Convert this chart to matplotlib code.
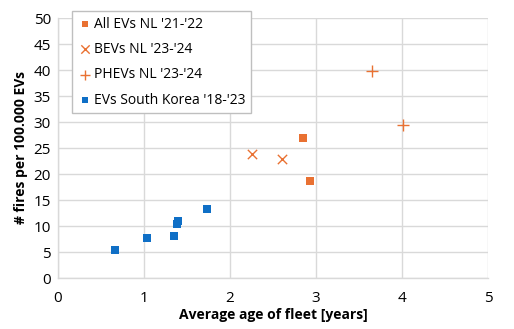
import matplotlib
matplotlib.use("Agg")
import matplotlib.pyplot as plt

plt.rcParams['font.family'] = ['Open Sans', 'DejaVu Sans']

nl_all_x = [2.845, 2.93]
nl_all_y = [27.0, 18.6]
bev_x = [2.256, 2.60]
bev_y = [23.9, 22.9]
phev_x = [3.65, 4.01]
phev_y = [39.9, 29.5]
kr_x = [0.66, 1.035, 1.345, 1.38, 1.40, 1.73]
kr_y = [5.3, 7.75, 8.07, 10.4, 10.9, 13.2]

labels = ["All EVs NL '21-'22", "BEVs NL '23-'24", "PHEVs NL '23-'24", "EVs South Korea '18-'23"]
xticks = [0, 1, 2, 3, 4, 5]
yticks = [0, 5, 10, 15, 20, 25, 30, 35, 40, 45, 50]

orange = '#E97132'
blue = '#0F6FC6'

fig = plt.figure(figsize=(5.14, 3.29), dpi=100)
ax = fig.add_axes([58/514, 1-278/329, 430/514, 260/329])

ax.scatter(nl_all_x, nl_all_y, marker='s', s=30, color=orange, label=labels[0], zorder=3, linewidths=0)
ax.scatter(bev_x, bev_y, marker='x', s=45, color=orange, label=labels[1], zorder=3, linewidths=1.0)
ax.scatter(phev_x, phev_y, marker='+', s=70, color=orange, label=labels[2], zorder=3, linewidths=1.0)
ax.scatter(kr_x, kr_y, marker='s', s=30, color=blue, label=labels[3], zorder=3, linewidths=0)

ax.set_xlim(0, 5)
ax.set_ylim(0, 50)
ax.set_xticks(xticks)
ax.set_yticks(yticks)
ax.grid(True, color='#D9D9D9', linewidth=1.0)
ax.set_axisbelow(True)
for s in ['top', 'right']:
    ax.spines[s].set_visible(False)
for s in ['left', 'bottom']:
    ax.spines[s].set_color('#D9D9D9')
    ax.spines[s].set_linewidth(1.0)
ax.tick_params(length=0, labelsize=11, colors='#000000', pad=5)
ax.tick_params(axis='x', pad=9)

ax.set_xlabel('Average age of fleet [years]', fontsize=10, fontweight='bold', labelpad=2)
ax.set_ylabel('# fires per 100.000 EVs', fontsize=10, fontweight='bold', labelpad=4)

leg = ax.legend(loc='upper left', bbox_to_anchor=(72/514, 1-11/329), bbox_transform=fig.transFigure,
                fontsize=10, frameon=True, fancybox=False, framealpha=1, edgecolor='#BFBFBF',
                handletextpad=0.15, handlelength=1.0, borderpad=0.4, labelspacing=0.75, borderaxespad=0,
                markerscale=0.9)
leg.get_frame().set_linewidth(1.0)

fig.savefig('out.png', dpi=100)
